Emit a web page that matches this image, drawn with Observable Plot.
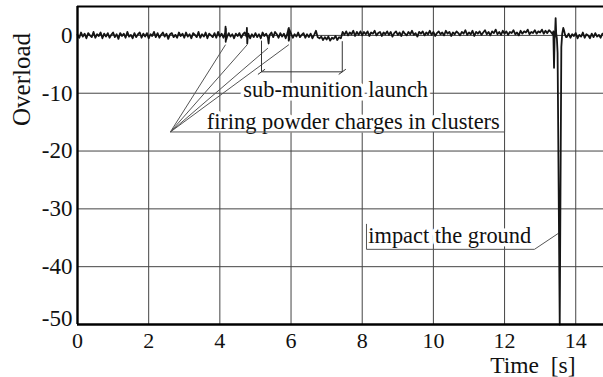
<!DOCTYPE html>
<html>
<head>
<meta charset="utf-8">
<script src="https://cdn.jsdelivr.net/npm/d3@7"></script>
<script src="https://cdn.jsdelivr.net/npm/@observablehq/plot@0.6"></script>
<style>
  html, body { margin: 0; padding: 0; background: #fff; }
  #chart svg { display: block; }
</style>
</head>
<body>
<div id="chart"></div>
<script>
// Axis ticks
const xTicks = [0, 2, 4, 6, 8, 10, 12, 14];
const yTicks = [0, -10, -20, -30, -40, -50];

// Recorded overload, sampled every 0.05 s from 0 s up to 13.35 s
const sampleStep = 0.05;
const overloadFlight = [
  0.1,-0.4,0.5,-0.2,0.3,-0.5,0.4,0.0,-0.3,0.6,-0.4,0.2,-0.1,0.5,-0.5,0.3,-0.2,0.4,-0.4,0.1,
  0.5,-0.3,0.2,-0.6,0.4,-0.1,0.3,-0.4,0.6,-0.2,0.1,-0.5,0.4,-0.3,0.2,0.5,-0.4,0.3,-0.2,0.4,
  -0.5,0.2,-0.1,0.6,-0.3,0.4,-0.4,0.1,0.5,-0.2,0.3,-0.6,0.2,0.4,-0.3,0.1,-0.4,0.5,-0.1,0.3,
  -0.4,0.5,-0.2,0.2,-0.5,0.4,0.1,-0.3,0.6,-0.4,0.2,-0.2,0.5,-0.5,0.3,0.0,-0.3,0.4,-0.4,0.6,
  -0.2,0.3,-0.4,0.5,-0.3,0.4,-0.2,0.2,-0.5,0.3,-0.1,0.4,-0.4,0.2,0.5,-0.2,0.3,-0.5,0.2,-0.3,
  0.4,-0.3,0.2,-0.5,0.5,-0.1,0.3,-0.4,0.1,0.5,-0.3,0.6,0.2,-0.4,0.4,-0.2,0.3,-0.5,0.4,-0.1,
  0.3,-0.4,0.2,-0.2,0.5,-0.3,0.1,0.4,-0.4,0.2,-0.3,0.3,-0.5,0.1,0.8,-0.3,-0.5,-0.2,-0.8,-0.3,
  -0.7,-0.2,-0.9,-0.4,-0.6,-0.1,-0.8,-0.3,-0.5,0.6,0.1,0.7,0.0,0.5,0.2,0.8,-0.1,0.6,0.1,0.7,
  0.0,0.6,0.2,0.7,-0.1,0.5,0.3,0.8,0.0,0.4,0.6,-0.1,0.5,0.2,0.7,0.1,0.6,-0.2,0.4,0.7,
  0.1,0.5,-0.1,0.7,0.3,0.0,0.6,0.2,0.8,0.1,0.4,-0.2,0.6,0.3,0.7,0.0,0.5,0.2,0.8,0.1,
  0.6,-0.1,0.4,0.7,0.2,0.5,0.0,0.8,0.3,0.6,-0.1,0.5,0.2,0.7,0.4,0.0,0.6,0.3,0.9,0.1,
  0.5,0.2,0.8,-0.1,0.6,0.3,0.7,0.1,0.5,0.9,0.2,0.6,0.0,0.7,0.4,1.0,0.2,0.6,0.1,0.8,
  0.3,0.7,0.1,0.6,0.4,0.9,0.2,0.5,0.0,0.8,0.3,0.7,0.5,1.0,0.2,0.6,0.4,0.9,0.3,0.7,
  0.5,1.0,0.3,0.8,0.4,0.9,0.6,0.2
];

// Short spikes from the charge firings, [time s, overload]
const chargeSpikes = [
  [4.16, 1.5], [4.165, -1.1], [4.17, 1.2], [4.175, -0.8],
  [4.76, 1.3], [4.77, -1.4], [4.78, -0.4],
  [5.37, -1.4], [5.38, -0.6],
  [5.93, 1.2], [5.935, -0.9], [5.94, 1.3], [5.945, -0.8], [5.952, 1.0]
];

// Ground impact, [time s, overload]
const impactTrace = [
  [13.37, 0.7], [13.39, -5.6], [13.405, -0.8], [13.42, 0.5], [13.435, 3.0],
  [13.45, 0.4], [13.47, -0.5], [13.49, -3.0], [13.55, -50], [13.595, -2.0],
  [13.62, 0.3], [13.65, 1.3], [13.67, 0.9], [13.70, 0.1], [13.73, -0.3]
];

// After impact, sampled every 0.05 s from 13.75 s
const afterImpactStart = 13.75;
const overloadAfter = [
  -0.3,0.3,-0.4,0.2,-0.1,0.4,-0.5,0.1,-0.2,0.5,-0.4,0.2,0.0,-0.5,0.3,-0.3,0.4,-0.2,0.1,-0.4,0.3
];

// Annotation anchors (time s, overload)
const firingHub = [2.61, -16.7];
const firingTargets = [[4.16, -1.6], [4.77, -1.6], [5.35, -2.2], [5.94, -1.6]];
const firingUnderlineEnd = [12.0, -16.7];
const firingBracketTop = -13.2;
const launchStart = 5.17, launchEnd = 7.44, launchBarY = -6.3;
const launchTops = [-0.9, -1.0];
const impactUnderline = [8.12, 12.84, -37.0];
const impactPoint = [13.52, -34.2];
const impactBracketTop = -32.6;

const labels = [
  {text: "sub-munition launch", t: 4.66, v: -9.43},
  {text: "firing powder charges in clusters", t: 3.63, v: -14.9},
  {text: "impact the ground", t: 8.17, v: -34.6}
];

// Assemble the trace
const signal = [];
overloadFlight.forEach((v, i) => signal.push({t: +(i * sampleStep).toFixed(3), v}));
chargeSpikes.forEach(([t, v]) => signal.push({t, v}));
impactTrace.forEach(([t, v]) => signal.push({t, v}));
overloadAfter.forEach((v, i) => signal.push({t: +(afterImpactStart + i * sampleStep).toFixed(3), v}));
signal.sort((a, b) => a.t - b.t);

// Annotation line segments
const segs = [];
firingTargets.forEach(([t, v]) => segs.push({x1: firingHub[0], y1: firingHub[1], x2: t, y2: v, c: "#555"}));
segs.push({x1: firingHub[0], y1: firingHub[1], x2: firingUnderlineEnd[0], y2: firingUnderlineEnd[1], c: "#555"});
segs.push({x1: firingUnderlineEnd[0], y1: firingUnderlineEnd[1], x2: firingUnderlineEnd[0], y2: firingBracketTop, c: "#555"});
segs.push({x1: launchStart, y1: launchTops[0], x2: launchStart, y2: launchBarY, c: "#333"});
segs.push({x1: launchEnd, y1: launchTops[1], x2: launchEnd, y2: launchBarY, c: "#333"});
segs.push({x1: launchStart, y1: launchBarY, x2: launchEnd, y2: launchBarY, c: "#333"});
[launchStart, launchEnd].forEach(t => segs.push({x1: t - 0.1, y1: launchBarY - 0.45, x2: t + 0.1, y2: launchBarY + 0.45, c: "#333"}));
segs.push({x1: impactUnderline[0], y1: impactUnderline[2], x2: impactUnderline[1], y2: impactUnderline[2], c: "#555"});
segs.push({x1: impactUnderline[1], y1: impactUnderline[2], x2: impactPoint[0], y2: impactPoint[1], c: "#555"});
segs.push({x1: impactUnderline[0], y1: impactUnderline[2], x2: impactUnderline[0], y2: impactBracketTop, c: "#555"});

const serif = "'Liberation Serif', 'Times New Roman', 'DejaVu Serif', serif";

const chart = Plot.plot({
  width: 603,
  height: 377,
  marginLeft: 77,
  marginRight: 0,
  marginTop: 6,
  marginBottom: 53,
  x: {domain: [0, 14.78]},
  y: {domain: [-50, 5]},
  style: {fontFamily: serif, background: "#fff", color: "#111"},
  marks: [
    Plot.gridX(xTicks, {stroke: "#444", strokeOpacity: 1, strokeWidth: 1}),
    Plot.gridY(yTicks, {stroke: "#444", strokeOpacity: 1, strokeWidth: 1}),
    Plot.axisX(xTicks, {tickSize: 0, tickPadding: 8, fontSize: 22, label: null, tickFormat: d => String(d)}),
    Plot.axisY(yTicks.filter(d => d > -50), {tickSize: 0, tickPadding: 5, fontSize: 23, label: null, tickFormat: d => String(d)}),
    Plot.axisY([-50], {tickSize: 0, tickPadding: 5, fontSize: 23, label: null, dy: -6, tickFormat: d => String(d)}),
    Plot.text(labels, {x: "t", y: "v", text: "text", textAnchor: "start", lineAnchor: "middle",
      fontSize: 22.4, fill: "#111", stroke: "#fff", strokeWidth: 7}),
    Plot.link(segs, {x1: "x1", y1: "y1", x2: "x2", y2: "y2", stroke: "c", strokeWidth: 1}),
    Plot.line(signal, {x: "t", y: "v", stroke: "#151515", strokeWidth: 1.8, curve: "linear"}),
    Plot.ruleX([0], {stroke: "#000", strokeWidth: 2.4}),
    Plot.ruleY([-50], {stroke: "#000", strokeWidth: 2.6}),
    Plot.ruleY([5], {stroke: "#000", strokeWidth: 2}),
    Plot.text(["Overload"], {frameAnchor: "left", rotate: -90, textAnchor: "middle", dx: -56, dy: -86,
      fontSize: 25, lineAnchor: "middle", fill: "#111"}),
    Plot.text(["Time\u00a0\u00a0[s]"], {frameAnchor: "bottom-right", textAnchor: "end", dx: -28, dy: 41,
      fontSize: 23.5, lineAnchor: "middle", fill: "#111"})
  ]
});

document.getElementById("chart").appendChild(chart);
</script>
</body>
</html>
